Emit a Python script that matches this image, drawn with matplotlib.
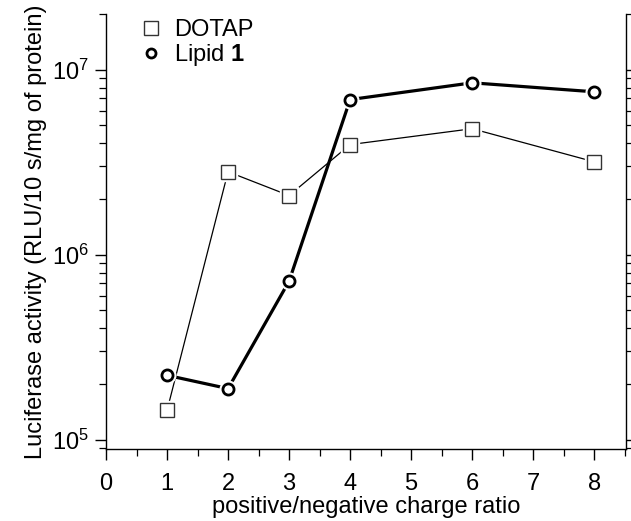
import matplotlib
matplotlib.use("Agg")
import matplotlib.pyplot as plt
from matplotlib.lines import Line2D
from matplotlib.ticker import LogLocator, MultipleLocator, NullFormatter

plt.rcParams['font.family'] = ['Liberation Sans', 'DejaVu Sans']
plt.rcParams['mathtext.fontset'] = 'custom'
plt.rcParams['mathtext.rm'] = 'Liberation Sans'
plt.rcParams['mathtext.bf'] = 'Liberation Sans:bold'

ratios = [1, 2, 3, 4, 6, 8]
dotap = [1.44e5, 2.81e6, 2.09e6, 3.94e6, 4.8e6, 3.18e6]
lipid1 = [2.23e5, 1.89e5, 7.2e5, 6.9e6, 8.5e6, 7.6e6]
xticks = [0, 1, 2, 3, 4, 5, 6, 7, 8]

fig = plt.figure(figsize=(6.31, 5.21), dpi=100)
ax = fig.add_axes([0.168, 0.138, 0.824, 0.835])

# lines
ax.plot(ratios, dotap, color='black', lw=0.9, zorder=2)
ax.plot(ratios, lipid1, color='black', lw=2.3, zorder=2)
# white halos for gaps
ax.plot(ratios, dotap, ls='none', marker='s', ms=13, mfc='white', mec='white', zorder=3)
ax.plot(ratios, lipid1, ls='none', marker='o', ms=12, mfc='white', mec='white', zorder=3)
# markers
ax.plot(ratios, dotap, ls='none', marker='s', ms=10, mfc='white', mec='#333333', mew=1.0, zorder=4)
ax.plot(ratios, lipid1, ls='none', marker='o', ms=8, mfc='white', mec='black', mew=2.0, zorder=4)

ax.set_yscale('log')
ax.set_xlim(0, 8.52)
ax.set_ylim(8.9e4, 2.0e7)
ax.set_xticks(xticks)
ax.xaxis.set_minor_locator(MultipleLocator(0.5))
ax.yaxis.set_major_locator(LogLocator(base=10, numticks=10))
ax.yaxis.set_minor_locator(LogLocator(base=10, subs=range(2, 10), numticks=20))
ax.yaxis.set_minor_formatter(NullFormatter())

ax.spines['top'].set_visible(False)
for s in ['left', 'right', 'bottom']:
    ax.spines[s].set_linewidth(1.0)
ax.tick_params(axis='both', which='major', direction='out', length=8, width=1.0, labelsize=17, pad=9)
ax.tick_params(axis='both', which='minor', direction='out', length=5, width=0.9)
ax.tick_params(axis='y', which='both', right=True)
ax.tick_params(axis='y', which='major', pad=4)

ax.set_xlabel('positive/negative charge ratio', fontsize=17, labelpad=1)
ax.set_ylabel('Luciferase activity (RLU/10 s/mg of protein)', fontsize=17, labelpad=4)

handles = [
    Line2D([], [], ls='none', marker='s', ms=10, mfc='white', mec='#333333', mew=1.0),
    Line2D([], [], ls='none', marker='o', ms=6.5, mfc='white', mec='black', mew=2.0),
]
ax.legend(handles, ['DOTAP', r'Lipid $\mathbf{1}$'], loc='upper left', frameon=False,
          fontsize=17, handletextpad=0.5, borderaxespad=0.0, bbox_to_anchor=(0.045, 1.01),
          labelspacing=0.05, handlelength=1.0)

fig.savefig('out.png', dpi=100)
